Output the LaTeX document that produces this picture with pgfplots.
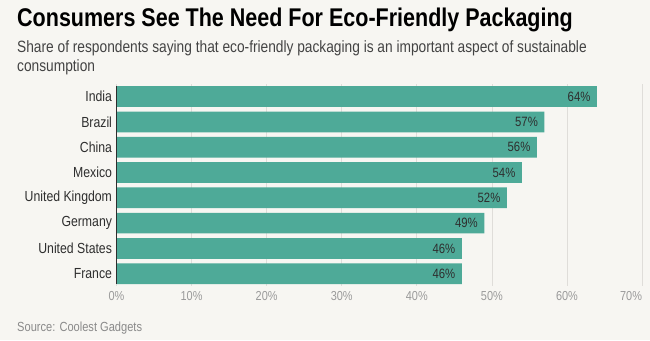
\documentclass[border=0pt]{standalone}
\usepackage{fontspec}
\setmainfont{Liberation Sans}[FakeStretch=0.84]
\usepackage{pgfplots}
\pgfplotsset{compat=1.18}
\definecolor{bg}{HTML}{F7F6F2}
\definecolor{barc}{HTML}{4EAA98}
\definecolor{gridc}{HTML}{DFDDD9}
\definecolor{txt}{HTML}{2E2E2E}
\definecolor{tickc}{HTML}{9A9A9A}
\definecolor{srcc}{HTML}{8A8A8A}
\begin{document}
\begin{tikzpicture}[x=1pt,y=1pt]
\fill[bg] (0,0) rectangle (650,340);
\useasboundingbox (0,0) rectangle (650,340);
\node[anchor=base west, inner sep=0, font=\bfseries\fontsize{25.6}{30}\selectfont] at (17,313) {Consumers See The Need For Eco-Friendly Packaging};
\node[anchor=base west, inner sep=0, text=txt!90, font=\fontsize{16.35}{19}\selectfont] at (17,287) {Share of respondents saying that eco-friendly packaging is an important aspect of sustainable};
\node[anchor=base west, inner sep=0, text=txt!90, font=\fontsize{16.35}{19}\selectfont] at (17,268) {consumption};
\node[anchor=base west, inner sep=0, text=srcc, font=\fontsize{13.2}{15}\selectfont] at (17,9) {Source: Coolest Gadgets};
\begin{axis}[
  at={(116.5pt,54pt)}, anchor=south west, scale only axis,
  width=525.5pt, height=201.7pt,
  xbar, bar width=20.7pt,
  xmin=0, xmax=70, ymin=-0.486, ymax=7.486, y dir=reverse,
  ytick={0,1,2,3,4,5,6,7},
  yticklabels={India,Brazil,China,Mexico,United Kingdom,Germany,United States,France},
  xtick={0,10,20,30,40,50,60,70},
  xticklabels={0\%,10\%,20\%,30\%,40\%,50\%,60\%,{70\%\hphantom{70\%}}},
  /pgf/number format/assume math mode=true,
  xmajorgrids, grid style={gridc, line width=0.7pt},
  axis line style={draw=none},
  major tick length=0pt,
  tick style={draw=none},
  yticklabel style={font=\fontsize{14.6}{17}\selectfont, text=txt, xshift=-1pt},
  xticklabel style={font=\fontsize{13}{15}\selectfont, text=tickc, yshift=-2pt},
  nodes near coords={\pgfmathprintnumber{\pgfplotspointmeta}\%},
  nodes near coords style={anchor=east, xshift=-3pt, font=\fontsize{13.5}{15}\selectfont, text=txt},
  point meta=x,
  clip=false,
]
\addplot[fill=barc, draw=none] coordinates {
(64,0) (57,1) (56,2) (54,3) (52,4) (49,5) (46,6) (46,7)
};
\draw[txt, line width=1.5pt] (axis cs:0,-0.42) -- (axis cs:0,7.42);
\end{axis}
\end{tikzpicture}
\end{document}
